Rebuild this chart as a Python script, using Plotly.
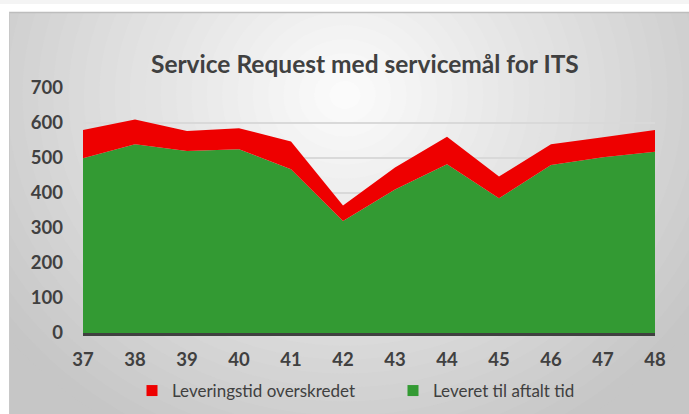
import plotly.graph_objects as go

weeks = [37, 38, 39, 40, 41, 42, 43, 44, 45, 46, 47, 48]
leveret_til_aftalt_tid = [499, 539, 520, 525, 468, 320, 410, 482, 385, 480, 502, 518]
leveringstid_overskredet = [81, 71, 57, 60, 79, 44, 63, 79, 62, 59, 57, 62]
y_ticks = [0, 100, 200, 300, 400, 500, 600, 700]

title_text = "Service Request med servicemål for ITS"
name_red = "Leveringstid overskredet"
name_green = "Leveret til aftalt tid"

W, H = 689, 414
GREEN = "#339a33"
RED = "#ee0000"
TXT = "#404040"

fig = go.Figure()
fig.add_trace(go.Scatter(x=weeks, y=leveret_til_aftalt_tid, stackgroup="one", mode="none",
                         fillcolor=GREEN, name=name_green, showlegend=False, hoverinfo="x+y"))
fig.add_trace(go.Scatter(x=weeks, y=leveringstid_overskredet, stackgroup="one", mode="none",
                         fillcolor=RED, name=name_red, showlegend=False, hoverinfo="x+y"))
# legend entries (square swatches)
fig.add_trace(go.Scatter(x=[None], y=[None], mode="markers", name=name_green,
                         marker=dict(symbol="square", size=11, color=GREEN)))
fig.add_trace(go.Scatter(x=[None], y=[None], mode="markers", name=name_red,
                         marker=dict(symbol="square", size=11, color=RED)))

shapes = []
def px_x(v):
    return v / W
def px_y(v):
    return 1 - v / H

shapes.append(dict(type="rect", xref="paper", yref="paper", x0=px_x(9), x1=1.0, y0=0, y1=px_y(12),
                   fillcolor="#c6c6c6", line=dict(width=0), layer="below"))
cx, cy = 345, 95
rx_max, ry_max = 430, 390
N = 28
c_out, c_in = 0xc6, 0xfd
for i in range(N):
    f = 1 - i / N
    c = int(round(c_out + (c_in - c_out) * (1 - f)))
    col = "#%02x%02x%02x" % (c, c, c)
    shapes.append(dict(type="circle", xref="paper", yref="paper",
                       x0=px_x(cx - rx_max * f), x1=px_x(cx + rx_max * f),
                       y0=px_y(cy + ry_max * f), y1=px_y(cy - ry_max * f),
                       fillcolor=col, line=dict(width=0), layer="below"))
shapes.append(dict(type="rect", xref="paper", yref="paper", x0=0, x1=1.0, y0=px_y(12), y1=1.0,
                   fillcolor="white", line=dict(width=0), layer="below"))
shapes.append(dict(type="rect", xref="paper", yref="paper", x0=0, x1=1.0, y0=px_y(4), y1=1.0,
                   fillcolor="#f4f4f4", line=dict(width=0), layer="below"))
shapes.append(dict(type="rect", xref="paper", yref="paper", x0=0, x1=px_x(9), y0=0, y1=px_y(4),
                   fillcolor="white", line=dict(width=0), layer="below"))
shapes.append(dict(type="line", xref="paper", yref="paper", x0=px_x(9), x1=1.0, y0=px_y(12.5), y1=px_y(12.5),
                   line=dict(color="#bdbdbd", width=1.5), layer="below"))
shapes.append(dict(type="line", xref="paper", yref="paper", x0=px_x(9.5), x1=px_x(9.5), y0=0, y1=px_y(12.5),
                   line=dict(color="#c8c8c8", width=1), layer="below"))

fig.update_layout(
    width=W, height=H,
    autosize=False,
    margin=dict(l=0, r=0, t=0, b=0, pad=0, autoexpand=False),
    paper_bgcolor="white",
    plot_bgcolor="rgba(0,0,0,0)",
    shapes=shapes,
    showlegend=True,
    legend=dict(orientation="h", x=132 / W, xanchor="left", y=px_y(391), yanchor="middle",
                font=dict(family="Lato", size=17, color=TXT), bgcolor="rgba(0,0,0,0)",
                traceorder="reversed", itemwidth=30, entrywidth=216, entrywidthmode="pixels"),
    annotations=[dict(text="<b>" + title_text + "</b>", x=365 / W, y=px_y(63), xref="paper", yref="paper",
                      xanchor="center", yanchor="middle", showarrow=False,
                      font=dict(family="Lato", size=24.5, color=TXT))],
    xaxis=dict(domain=[83 / W, 655 / W], range=[37, 48], tickvals=weeks, ticktext=[str(w) for w in weeks],
               showgrid=False, zeroline=False, showline=True, linecolor=TXT, linewidth=3,
               ticks="", ticklabelstandoff=8, automargin=False,
               tickfont=dict(family="Lato", size=18.5, color=TXT, weight="bold")),
    yaxis=dict(domain=[px_y(333), px_y(88)], range=[0, 700], tickvals=y_ticks,
               showgrid=True, gridcolor="#d9d9d9", gridwidth=1.5, zeroline=False, showline=False,
               ticks="", ticklabelstandoff=19, automargin=False,
               tickfont=dict(family="Lato", size=18.5, color=TXT, weight="bold")),
    font=dict(family="Lato"),
)

fig.write_html("out.html", config={"displayModeBar": False},
               post_script="document.body.style.margin='0';document.body.style.padding='0';")
